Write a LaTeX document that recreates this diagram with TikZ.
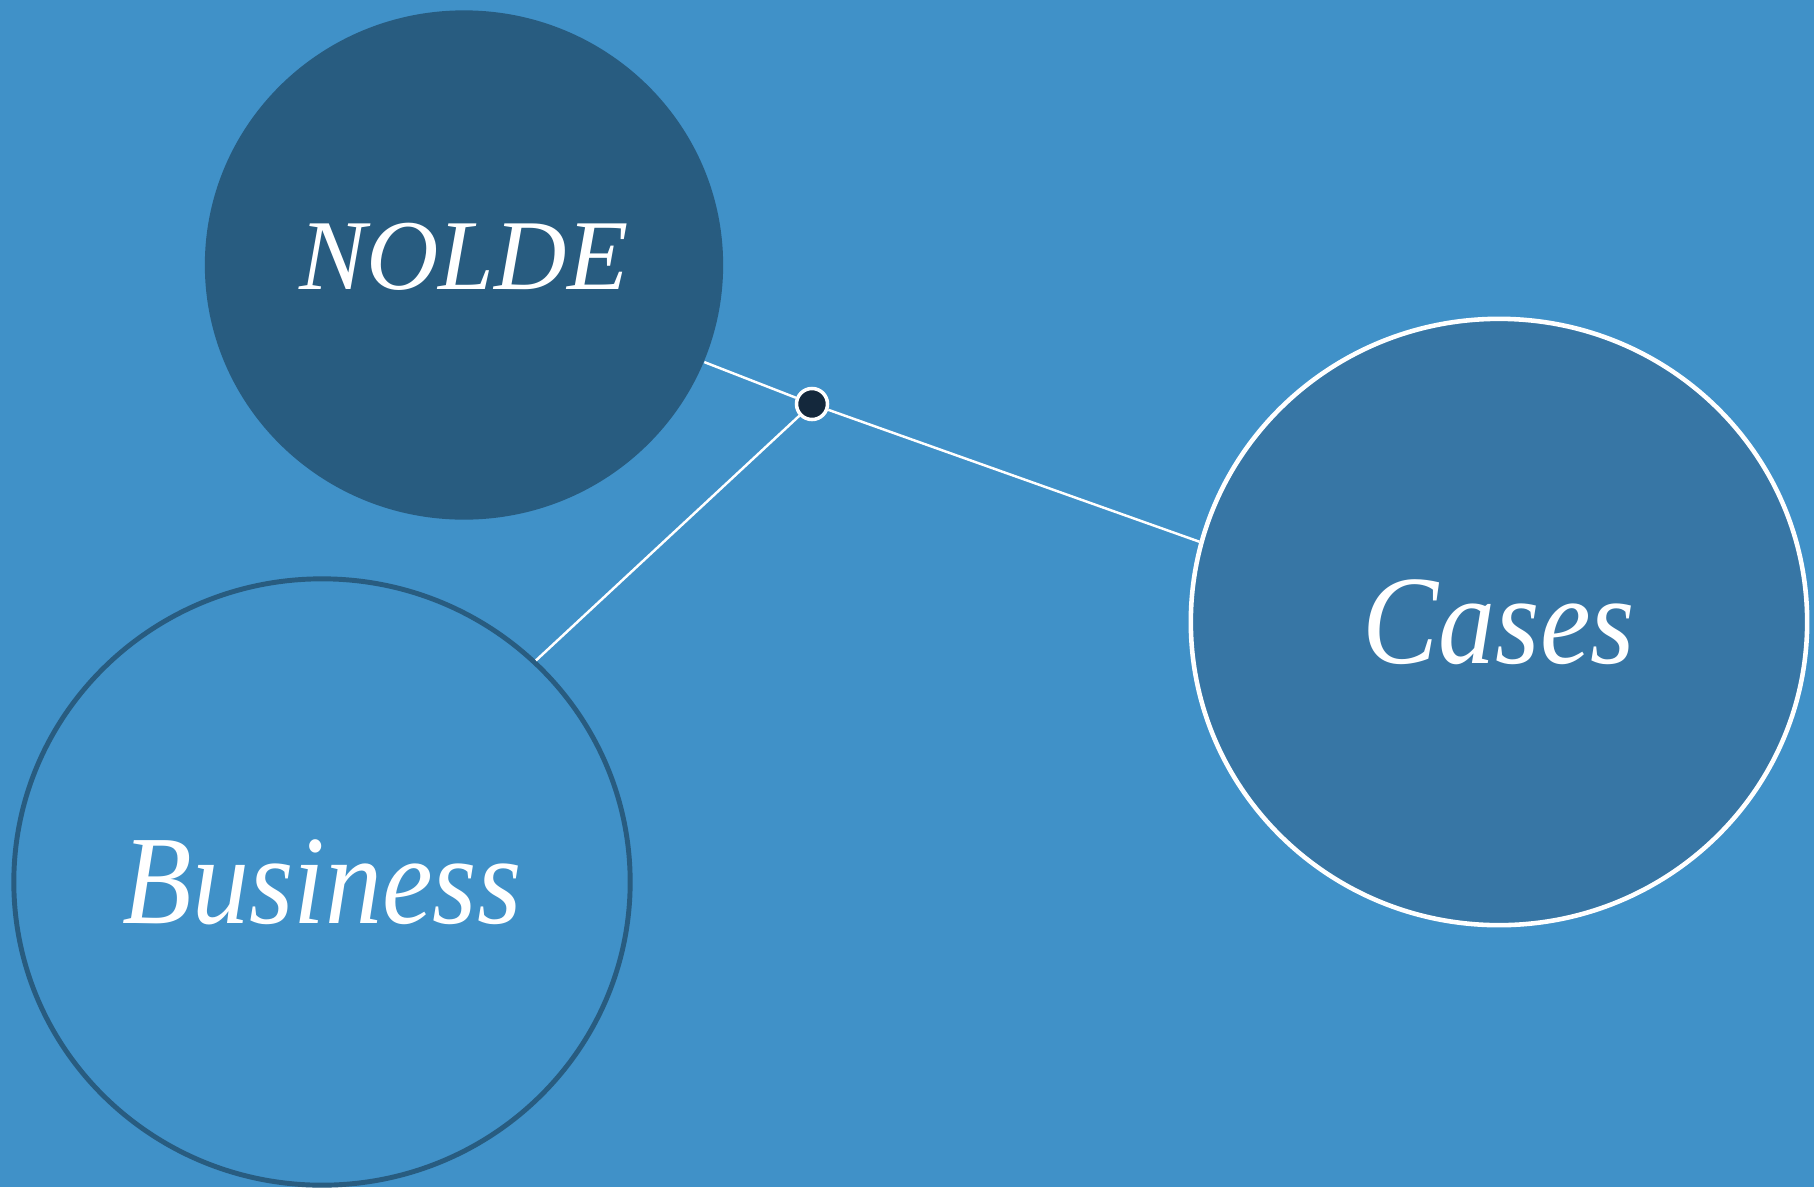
\documentclass[tikz,border=0pt]{standalone}
\usepackage{fontspec}
\setmainfont{Liberation Serif}
\newfontfamily\narrowserif[FakeStretch=0.9]{Liberation Serif}
\usetikzlibrary{shapes.geometric}
\definecolor{bgblue}{RGB}{64,145,200}
\definecolor{darkblue}{RGB}{40,92,128}
\definecolor{midblue}{RGB}{55,118,165}
\definecolor{hubfill}{RGB}{20,40,60}
\tikzset{
  bubble/.style={ellipse, inner sep=0pt},
  bubbletext/.style={text=white, inner sep=0pt},
  link/.style={draw=white, line width=0.7pt}
}
\begin{document}
\begin{tikzpicture}[x=0.01cm,y=-0.01cm]
        % Background
        \fill[bgblue] (0,0) rectangle (1814,1187);
        \useasboundingbox (0,0) rectangle (1814,1187);
        % Define the bubbles
        \node[bubble, fill=darkblue, minimum width=5.18cm, minimum height=5.09cm,
          label={[bubbletext, yshift=0.08cm, font=\itshape\fontsize{28.5}{32}\selectfont]center:NOLDE}] (nolde) at (464,265) {};
        \node[bubble, fill=midblue, draw=white, line width=1.3pt, minimum width=6.16cm, minimum height=6.06cm,
          label={[bubbletext, font=\narrowserif\itshape\fontsize{36}{42}\selectfont]center:Cases}] (cases) at (1499,622) {};
        \node[bubble, draw=darkblue, line width=1.4pt, minimum width=6.16cm, minimum height=6.06cm,
          label={[bubbletext, font=\narrowserif\itshape\fontsize{36}{42}\selectfont]center:Business}] (business) at (322,882) {};
        \node[circle, fill=hubfill, draw=white, line width=1pt, minimum size=0.31cm, inner sep=0pt] (hub) at (812,404) {};
        % Add links
        \draw[link] (nolde.-22) -- (hub);
        \draw[link] (hub) -- (cases.165.7);
        \draw[link] (hub) -- (business.46);
\end{tikzpicture}
\end{document}
